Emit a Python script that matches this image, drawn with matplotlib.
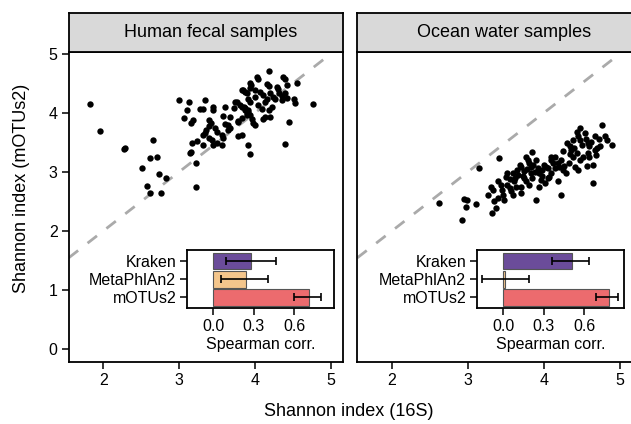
import matplotlib
matplotlib.use("Agg")
import matplotlib.pyplot as plt
import numpy as np

plt.rcParams['font.family'] = ['Liberation Sans', 'DejaVu Sans']

# ---------------- data ----------------
panel_titles = ["Human fecal samples", "Ocean water samples"]
x_label = "Shannon index (16S)"
y_label = "Shannon index (mOTUs2)"
x_ticks = [2, 3, 4, 5]
y_ticks = [0, 1, 2, 3, 4, 5]

fecal_x = [1.82, 1.96, 2.27, 2.29, 2.66, 2.51, 2.62, 2.71, 2.73, 2.83, 2.57, 2.62, 2.76, 3.22, 3.22,
           3.93, 3.91, 4.40, 4.45, 4.76, 4.56, 4.18,
           3.00, 3.13, 3.34, 3.11, 3.28, 3.32, 3.44, 3.44, 3.61, 3.74, 3.72, 3.83, 3.87, 3.91, 3.89,
           3.84, 3.93, 3.07, 3.18, 3.15, 3.40, 3.42, 3.39, 3.36, 3.34, 3.47, 3.50, 3.58, 3.67, 3.61,
           3.65, 3.67, 3.65, 3.78, 3.83, 3.32, 3.39, 3.43, 3.56, 3.58, 3.50, 3.78, 3.83, 3.23, 3.17,
           3.32, 3.45, 3.56, 3.15, 3.14,
           4.02, 4.04, 4.37, 4.40, 3.94, 3.95, 4.16, 4.18, 4.29, 4.30, 4.42, 3.83, 3.87, 3.89, 4.00,
           4.07, 4.11, 4.20, 4.31, 4.35, 4.40, 3.91, 3.94, 4.00, 4.16, 4.13, 4.24, 4.27, 4.35, 4.42,
           4.51, 4.53, 3.76, 3.80, 3.85, 3.87, 3.91, 3.89, 3.94, 4.04, 4.09, 4.22, 4.18, 3.96, 3.98,
           4.00, 4.13, 4.20, 4.11, 3.78]
fecal_y = [4.15, 3.69, 3.38, 3.40, 3.54, 3.07, 3.24, 3.26, 2.96, 2.89, 2.76, 2.64, 2.64, 2.75, 3.15,
           3.30, 3.45, 3.47, 3.85, 4.15, 4.51, 4.71,
           4.21, 4.18, 4.21, 4.04, 4.06, 4.07, 4.10, 4.05, 4.10, 4.18, 4.08, 4.10, 4.08, 4.05, 3.96,
           4.39, 4.42, 3.91, 3.88, 3.82, 3.88, 3.82, 3.77, 3.71, 3.65, 3.74, 3.68, 3.94, 3.93, 3.81,
           3.80, 3.74, 3.71, 3.86, 3.91, 3.63, 3.57, 3.54, 3.63, 3.57, 3.49, 3.60, 3.63, 3.52, 3.49,
           3.46, 3.45, 3.45, 3.34, 3.32,
           4.61, 4.57, 4.61, 4.57, 4.51, 4.47, 4.49, 4.46, 4.44, 4.41, 4.47, 4.38, 4.35, 4.33, 4.38,
           4.35, 4.30, 4.33, 4.33, 4.29, 4.33, 4.24, 4.18, 4.27, 4.24, 4.18, 4.27, 4.24, 4.21, 4.25,
           4.24, 4.16, 4.18, 4.13, 4.10, 4.04, 4.02, 3.99, 3.96, 4.13, 4.07, 4.10, 4.04, 3.90, 3.82,
           3.79, 3.93, 3.93, 3.90, 3.85]

ocean_x = [2.62, 2.92, 2.95, 2.99, 2.97, 3.11, 3.15, 3.27, 3.32, 3.37, 3.34, 3.41, 3.30, 3.33,
           3.39, 3.43, 3.50, 3.52, 3.46, 3.48, 3.57, 3.59, 3.52, 3.61, 3.63, 3.70, 3.59, 3.65,
           3.70, 3.74, 3.81, 3.83, 3.76, 3.79, 3.84, 3.90, 3.92, 3.83, 3.85, 3.94, 3.96, 4.01,
           4.07, 4.09, 4.03, 4.05, 4.12, 4.14, 3.94, 3.74, 3.76, 3.70, 3.90, 4.09, 4.20, 4.23,
           4.25, 4.29, 4.18, 4.23, 4.31, 4.34, 4.36, 4.38, 4.43, 4.45, 4.47, 4.38, 4.43, 4.47,
           4.51, 4.41, 4.45, 4.58, 4.60, 4.58, 4.60, 4.67, 4.69, 4.65, 4.67, 4.65, 4.77, 4.80,
           4.83, 4.74, 4.90, 4.48, 4.54,
           3.55, 3.66, 3.72, 3.78, 3.86, 3.88, 3.97, 4.00, 4.10, 4.15, 4.18, 4.27, 4.33, 4.40,
           4.50, 4.55, 4.62, 4.72, 4.70, 4.57, 3.45, 3.55, 3.62, 3.98, 4.05, 3.40, 3.80, 4.35,
           4.25, 3.68]
ocean_y = [2.47, 2.19, 2.54, 2.53, 2.41, 2.46, 3.06, 2.61, 2.30, 2.39, 2.50, 3.23, 2.75, 2.70,
           2.84, 2.78, 2.92, 2.78, 2.61, 2.53, 2.67, 2.61, 2.98, 2.84, 2.75, 2.64, 2.98, 3.03,
           3.09, 3.01, 3.15, 3.09, 3.26, 3.20, 3.34, 3.20, 3.06, 2.98, 2.89, 2.75, 2.87, 2.81,
           2.92, 2.98, 3.09, 3.06, 3.15, 3.06, 2.98, 2.89, 2.84, 2.75, 2.53, 3.26, 3.09, 3.20,
           3.03, 2.98, 2.84, 2.61, 3.49, 3.43, 3.37, 3.54, 3.68, 3.60, 3.54, 3.26, 3.32, 3.20,
           3.26, 3.09, 3.03, 3.49, 3.43, 3.32, 3.26, 3.37, 3.29, 3.12, 3.60, 2.81, 3.80, 3.60,
           3.54, 3.43, 3.46, 3.74, 3.65,
           2.88, 2.95, 2.93, 3.05, 3.12, 3.00, 3.03, 3.12, 3.20, 3.25, 3.15, 3.10, 3.15, 3.40,
           3.45, 3.55, 3.50, 3.55, 3.40, 3.10, 2.70, 2.72, 2.90, 2.93, 2.90, 2.55, 2.78, 3.30,
           3.35, 3.12]

tools = ["Kraken", "MetaPhlAn2", "mOTUs2"]
tool_colors = ["#6B4C9A", "#F4C68C", "#EC6B6E"]
corr_ticks = [0.0, 0.3, 0.6]
fecal_corr = [0.282, 0.24, 0.709]
fecal_lo = [0.092, 0.057, 0.60]
fecal_hi = [0.462, 0.407, 0.798]
ocean_corr = [0.507, 0.015, 0.78]
ocean_lo = [0.363, -0.156, 0.687]
ocean_hi = [0.635, 0.19, 0.847]

panels = [
    (fecal_x, fecal_y, fecal_corr, fecal_lo, fecal_hi),
    (ocean_x, ocean_y, ocean_corr, ocean_lo, ocean_hi),
]

# ---------------- layout ----------------
W, H = 631, 424
fig = plt.figure(figsize=(W / 100, H / 100), dpi=100)

def fr(x0, y0, x1, y1):
    return [x0 / W, 1 - y1 / H, (x1 - x0) / W, (y1 - y0) / H]

panel_px = [(68.7, 52, 343, 362), (357.3, 52, 632, 362)]
strip_px = [(68.7, 13, 343, 52), (357.3, 13, 632, 52)]
inset_px = [(187.3, 250, 334.3, 307.7), (477.3, 250, 624.3, 307.7)]
title_xfrac = [0.517, 0.534]

xlim = (1.544, 5.16)
ylim = (-0.22, 5.03)
edge_lw = 1.3
tick_fs = 11.5

for i, (px, py, corr, lo, hi) in enumerate(panels):
    ax = fig.add_axes(fr(*panel_px[i]))
    ax.set_xlim(*xlim)
    ax.set_ylim(*ylim)
    ax.plot([xlim[0], 4.9], [xlim[0], 4.9], color="#AAAAAA", lw=2.0,
            linestyle=(0, (4.3, 4.3)), zorder=1, solid_capstyle="butt")
    ax.scatter(px, py, s=21, color="black", linewidths=0, zorder=3)
    ax.set_xticks(x_ticks)
    ax.tick_params(axis="x", direction="out", length=5, width=1.1, labelsize=tick_fs,
                   pad=3, colors="black")
    if i == 0:
        ax.set_yticks(y_ticks)
        ax.tick_params(axis="y", direction="out", length=5, width=1.1, labelsize=tick_fs,
                       pad=3, colors="black")
    else:
        ax.set_yticks([])
    for sp in ax.spines.values():
        sp.set_linewidth(edge_lw)
        sp.set_color("black")

    # strip
    sax = fig.add_axes(fr(*strip_px[i]))
    sax.set_facecolor("#D9D9D9")
    sax.set_xticks([])
    sax.set_yticks([])
    for sp in sax.spines.values():
        sp.set_linewidth(edge_lw)
        sp.set_color("black")
    sax.text(title_xfrac[i], 0.5, panel_titles[i], ha="center", va="center",
             fontsize=13, transform=sax.transAxes)

    # inset
    iax = fig.add_axes(fr(*inset_px[i]))
    ypos = [3, 2, 1]
    err_lo = [c - l for c, l in zip(corr, lo)]
    err_hi = [h - c for c, h in zip(corr, hi)]
    iax.barh(ypos, corr, height=0.9, color=tool_colors, edgecolor="#555555",
             linewidth=0.8, zorder=2)
    iax.errorbar(corr, ypos, xerr=[err_lo, err_hi], fmt="none", ecolor="black",
                 elinewidth=1.2, capsize=3.2, capthick=1.2, zorder=3)
    iax.set_xlim(-0.193, 0.896)
    iax.set_ylim(0.43, 3.63)
    iax.set_yticks(ypos)
    iax.set_yticklabels(tools)
    iax.set_xticks(corr_ticks)
    iax.set_xticklabels([f"{t:.1f}" for t in corr_ticks])
    iax.tick_params(direction="out", length=5, width=1.1, labelsize=tick_fs, pad=3,
                    colors="black")
    iax.set_xlabel("Spearman corr.", fontsize=tick_fs, labelpad=2)
    for sp in iax.spines.values():
        sp.set_linewidth(edge_lw)
        sp.set_color("black")

fig.text(349 / W, 1 - 411 / H, x_label, ha="center", va="center", fontsize=13)
fig.text(21.7 / W, 1 - 188 / H, y_label, ha="center", va="center", rotation=90, fontsize=13)

fig.savefig("out.png", dpi=100)
